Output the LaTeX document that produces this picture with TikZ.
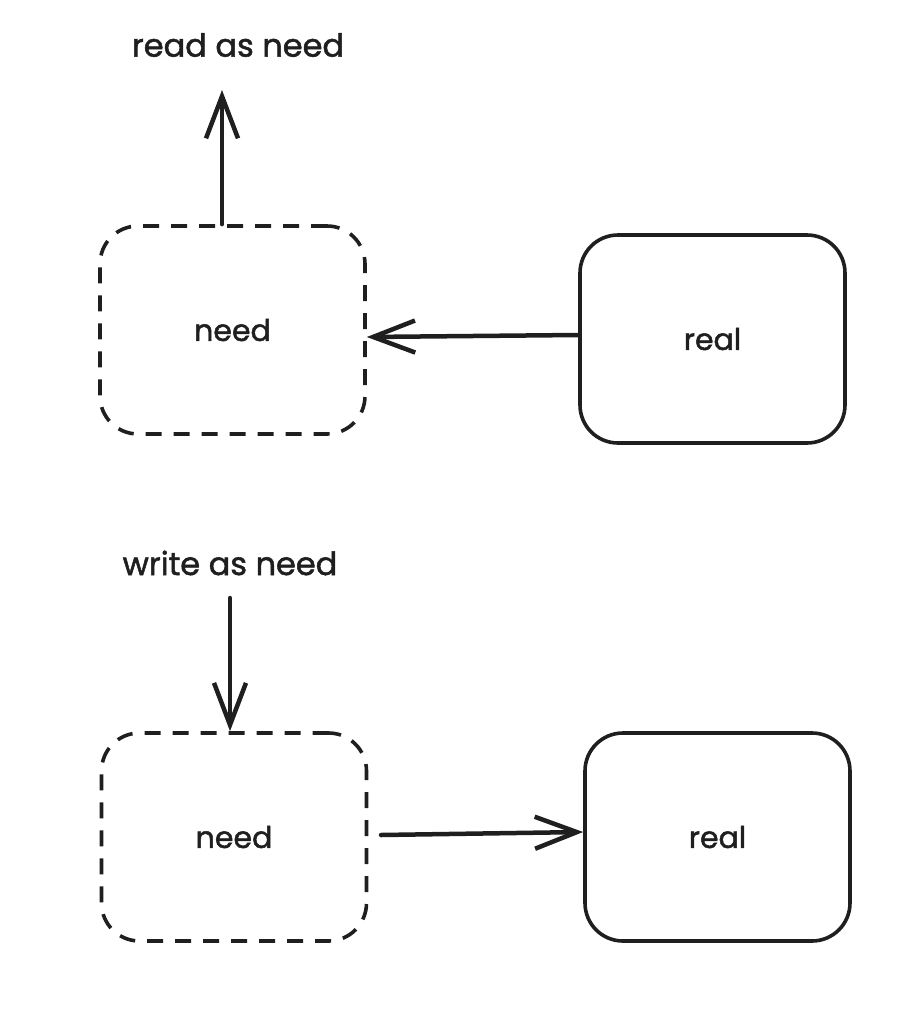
\documentclass[tikz,border=0pt]{standalone}
\usepackage{fontspec}
\setmainfont{Poppins}
\newfontfamily\hand{Poppins}[FakeBold=1.6]
\usetikzlibrary{arrows.meta}
\begin{document}
\begin{tikzpicture}[x=1pt,y=-1pt,
  box/.style={draw=black!88, line width=3.6pt, rounded corners=38pt, minimum width=265pt, minimum height=208pt, inner sep=0pt, font=\fontsize{30}{34}\hand, text=black!88},
  dbox/.style={box, dash pattern=on 16pt off 12pt},
  lbl/.style={font=\fontsize{32}{38}\hand, text=black!88, inner sep=0pt},
  conn/.style={draw=black!88, line width=4.5pt, line cap=round, -{Straight Barb[length=42pt,width=32pt,line width=4.5pt]}}
]
\useasboundingbox (0,0) rectangle (916,1018);
% top
\node[dbox] (need1) at (232.5,330) {need};
\node[box] (real1) at (712.5,339) {real};
\node[lbl] (read) at (238,45) {read as need};
\coordinate (up) at (222,90);
\draw[conn] (need1.north -| up) -- (up);
\draw[conn] (real1.west |- 0,335) -- (need1.east |- 0,337);
% bottom
\node[lbl] (write) at (230,563) {write as need};
\node[dbox] (need2) at (234,837) {need};
\node[box] (real2) at (717.5,837) {real};
\coordinate (dn) at (230,598);
\draw[conn] (dn) -- (dn |- need2.north);
\coordinate (s2) at (381,835);
\draw[conn] (s2) -- (real2.west |- 0,832);
\end{tikzpicture}
\end{document}
